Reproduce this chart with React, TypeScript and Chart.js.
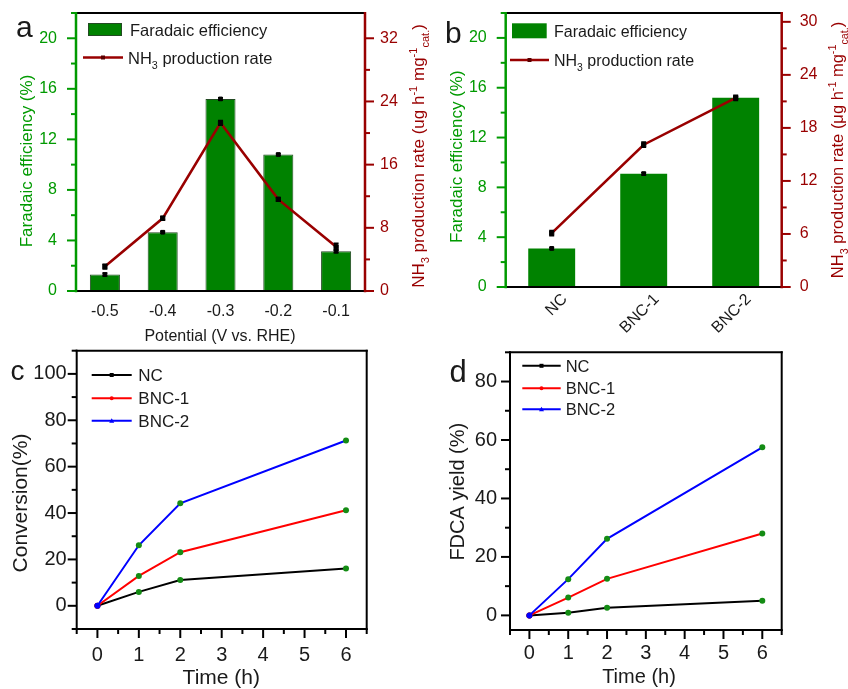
import React, { useEffect, useRef } from 'react';
import { Chart, registerables } from 'chart.js';

Chart.register(...registerables);

const W = 848;
const H = 689;
const FONT = "'Liberation Sans', Arial, Helvetica, sans-serif";

// ---------------- data ----------------
const potentialLabels = ['-0.5', '-0.4', '-0.3', '-0.2', '-0.1'];
const feByPotential = [1.3, 4.65, 15.2, 10.8, 3.15];
const feErrByPotential = [0.12, 0.08, 0.1, 0.08, 0.12];
const rateByPotential = [3.1, 9.2, 21.3, 11.6, 5.6];
const rateErrByPotential = [0.3, 0.25, 0.3, 0.25, 0.45];
const feTicksA = [0, 4, 8, 12, 16, 20];
const rateTicksA = [0, 8, 16, 24, 32];

const catalystLabels = ['NC', 'BNC-1', 'BNC-2'];
const feByCatalyst = [3.1, 9.1, 15.2];
const feErrByCatalyst = [0.08, 0.1, 0.1];
const rateByCatalyst = [6.1, 16.1, 21.4];
const rateErrByCatalyst = [0.3, 0.3, 0.3];
const feTicksB = [0, 4, 8, 12, 16, 20];
const rateTicksB = [0, 6, 12, 18, 24, 30];

const timeHours = [0, 1, 2, 6];
const conversionNC = [0, 6.0, 11.1, 16.1];
const conversionBNC1 = [0, 12.9, 23.1, 41.2];
const conversionBNC2 = [0, 26.1, 44.2, 71.3];
const fdcaNC = [0, 0.9, 2.6, 5.0];
const fdcaBNC1 = [0, 6.1, 12.5, 28.0];
const fdcaBNC2 = [0, 12.4, 26.2, 57.5];
const conversionTicks = [0, 20, 40, 60, 80, 100];
const fdcaTicks = [0, 20, 40, 60, 80];
const timeTicks = [0, 1, 2, 3, 4, 5, 6];

// ---------------- styles ----------------
const GREEN_TXT = '#009a00';
const GREEN_BAR = '#008200';
const WINE = '#990000';
const INK = '#1a1a1a';
const DOT_GREEN = '#148c14';

type Seg = { t: string; s?: 'sub' | 'sup' };

const rateTitleA: Seg[] = [
  { t: 'NH' }, { t: '3', s: 'sub' }, { t: ' production rate (ug h' }, { t: '-1', s: 'sup' },
  { t: ' mg' }, { t: '-1', s: 'sup' }, { t: 'cat.', s: 'sub' }, { t: ')' },
];
const rateTitleB: Seg[] = [
  { t: 'NH' }, { t: '3', s: 'sub' }, { t: ' production rate (\u03bcg h' }, { t: '-1', s: 'sup' },
  { t: ' mg' }, { t: '-1', s: 'sup' }, { t: 'cat.', s: 'sub' }, { t: ')' },
];
const rateLegend: Seg[] = [{ t: 'NH' }, { t: '3', s: 'sub' }, { t: ' production rate' }];

function fontStr(size: number) {
  return `${size}px ${FONT}`;
}

function drawRich(ctx: CanvasRenderingContext2D, segs: Seg[], x: number, y: number, size: number,
  color: string, rot = 0, align: 'left' | 'center' = 'left') {
  ctx.save();
  ctx.translate(x, y);
  ctx.rotate(rot);
  ctx.fillStyle = color;
  ctx.textAlign = 'left';
  ctx.textBaseline = 'alphabetic';
  let total = 0;
  for (const g of segs) {
    ctx.font = fontStr(g.s ? size * 0.65 : size);
    total += ctx.measureText(g.t).width;
  }
  let cx = align === 'center' ? -total / 2 : 0;
  const base = size * 0.358;
  for (const g of segs) {
    const fs = g.s ? size * 0.65 : size;
    ctx.font = fontStr(fs);
    const dy = g.s === 'sub' ? size * 0.3 : g.s === 'sup' ? -size * 0.4 : 0;
    ctx.fillText(g.t, cx, base + dy);
    cx += ctx.measureText(g.t).width;
  }
  ctx.restore();
}

function drawMarker(ctx: CanvasRenderingContext2D, kind: string, x: number, y: number, s: number, color: string) {
  ctx.save();
  ctx.fillStyle = color;
  ctx.beginPath();
  if (kind === 'rect') ctx.rect(x - s / 2, y - s / 2, s, s);
  else if (kind === 'circle') ctx.arc(x, y, s / 2, 0, Math.PI * 2);
  else if (kind === 'triangle') {
    ctx.moveTo(x, y - s / 2 - 0.5);
    ctx.lineTo(x + s / 2 + 0.5, y + s / 2);
    ctx.lineTo(x - s / 2 - 0.5, y + s / 2);
    ctx.closePath();
  }
  ctx.fill();
  ctx.restore();
}

interface AxisDeco { id: string; side: 'left' | 'right' | 'bottom'; color: string; w: number; major?: number[]; minorStep?: number }
interface LegendItem {
  kind: 'box' | 'line'; x1: number; x2: number; y1?: number; y2?: number; y?: number;
  fill?: string; stroke?: string; color?: string; w?: number; marker?: string; markerColor?: string; markerSize?: number;
  tx: number; ty: number; segs: Seg[]; size: number; textColor: string;
}
interface TitleSpec { segs: Seg[]; x: number; y: number; size: number; color: string; rot: number }
interface DecoCfg {
  axes: AxisDeco[];
  top: { color: string; w: number };
  right?: { color: string; w: number };
  errors?: { ds: number; scale: string; err: number[] }[];
  legend: LegendItem[];
  titles: TitleSpec[];
  letter: { t: string; x: number; y: number; size: number };
}

const MAJOR_LEN = 9;
const MINOR_LEN = 5;

function makeDeco(cfg: DecoCfg) {
  return {
    id: 'deco',
    afterDatasetsDraw(chart: any) {
      const ctx: CanvasRenderingContext2D = chart.ctx;
      for (const e of cfg.errors || []) {
        const meta = chart.getDatasetMeta(e.ds);
        const sc = chart.scales[e.scale];
        const vals = chart.data.datasets[e.ds].data as number[];
        meta.data.forEach((el: any, i: number) => {
          const v = vals[i];
          const er = e.err[i];
          const ya = sc.getPixelForValue(v - er);
          const yb = sc.getPixelForValue(v + er);
          ctx.save();
          ctx.strokeStyle = '#000';
          ctx.lineWidth = 1.5;
          ctx.beginPath();
          ctx.moveTo(el.x, ya); ctx.lineTo(el.x, yb);
          ctx.moveTo(el.x - 2.5, ya); ctx.lineTo(el.x + 2.5, ya);
          ctx.moveTo(el.x - 2.5, yb); ctx.lineTo(el.x + 2.5, yb);
          ctx.stroke();
          ctx.restore();
        });
      }
    },
    afterDraw(chart: any) {
      const ctx: CanvasRenderingContext2D = chart.ctx;
      const { left: L, right: R, top: T, bottom: B } = chart.chartArea;
      const seg = (x1: number, y1: number, x2: number, y2: number, color: string, w: number) => {
        ctx.save();
        ctx.strokeStyle = color;
        ctx.lineWidth = w;
        ctx.lineCap = 'butt';
        ctx.beginPath();
        ctx.moveTo(x1, y1);
        ctx.lineTo(x2, y2);
        ctx.stroke();
        ctx.restore();
      };
      // frame
      seg(L - 1, T, R + 1, T, cfg.top.color, cfg.top.w);
      if (cfg.right) seg(R, T - 1, R, B + 1, cfg.right.color, cfg.right.w);
      // axes
      const order = [...cfg.axes].sort((a, b) => (a.side === 'bottom' ? -1 : 0) - (b.side === 'bottom' ? -1 : 0));
      for (const ax of order) {
        const sc = chart.scales[ax.id];
        if (ax.side === 'bottom') seg(L - ax.w / 2, B, R + ax.w / 2, B, ax.color, ax.w);
        else if (ax.side === 'left') seg(L, T - 1, L, B + ax.w / 2, ax.color, ax.w);
        else seg(R, T - 1, R, B + ax.w / 2, ax.color, ax.w);
        const majors = ax.major || [];
        const minors: number[] = [];
        if (ax.minorStep) {
          const st = ax.minorStep;
          for (let k = Math.ceil(sc.min / st - 1e-9); k * st <= sc.max + 1e-9; k++) {
            const v = +(k * st).toFixed(6);
            if (!majors.some((m) => Math.abs(m - v) < 1e-9)) minors.push(v);
          }
        }
        const tick = (v: number, len: number) => {
          const p = sc.getPixelForValue(v);
          if (ax.side === 'left') seg(L, p, L - len, p, ax.color, 2);
          else if (ax.side === 'right') seg(R, p, R + len, p, ax.color, 2);
          else seg(p, B, p, B + len, ax.color, 2);
        };
        majors.forEach((v) => tick(v, MAJOR_LEN));
        minors.forEach((v) => tick(v, MINOR_LEN));
      }
      // legend
      for (const it of cfg.legend) {
        if (it.kind === 'box') {
          ctx.save();
          ctx.fillStyle = it.fill!;
          ctx.fillRect(it.x1, it.y1!, it.x2 - it.x1, it.y2! - it.y1!);
          if (it.stroke) {
            ctx.strokeStyle = it.stroke;
            ctx.lineWidth = 1;
            ctx.strokeRect(it.x1 + 0.5, it.y1! + 0.5, it.x2 - it.x1 - 1, it.y2! - it.y1! - 1);
          }
          ctx.restore();
        } else {
          seg(it.x1, it.y!, it.x2, it.y!, it.color!, it.w!);
          if (it.marker) drawMarker(ctx, it.marker, (it.x1 + it.x2) / 2, it.y!, it.markerSize!, it.markerColor!);
        }
        drawRich(ctx, it.segs, it.tx, it.ty, it.size, it.textColor, 0, 'left');
      }
      // titles
      for (const t of cfg.titles) drawRich(ctx, t.segs, t.x, t.y, t.size, t.color, t.rot, 'center');
      // letter
      ctx.save();
      ctx.fillStyle = INK;
      ctx.font = fontStr(cfg.letter.size);
      ctx.textAlign = 'left';
      ctx.textBaseline = 'alphabetic';
      ctx.fillText(cfg.letter.t, cfg.letter.x, cfg.letter.y);
      ctx.restore();
    },
  };
}

const Y_W = 50;
const R_W = 45;
const X_H = 58;

function yScale(o: { pos: 'left' | 'right'; min: number; max: number; ticks: number[]; color: string; size: number; padding: number }) {
  return {
    type: 'linear',
    position: o.pos,
    min: o.min,
    max: o.max,
    grid: { display: false, drawTicks: false },
    border: { display: false },
    ticks: { color: o.color, font: { family: FONT, size: o.size }, padding: o.padding },
    afterBuildTicks: (s: any) => { s.ticks = o.ticks.map((v) => ({ value: v })); },
    afterFit: (s: any) => { s.width = o.pos === 'left' ? Y_W : R_W; s.paddingTop = 0; s.paddingBottom = 0; },
  };
}

function catX(size: number, padding: number, rot: number, labelOffset: number) {
  return {
    type: 'category',
    position: 'bottom',
    offset: true,
    grid: { display: false, drawTicks: false },
    border: { display: false },
    ticks: { color: INK, font: { family: FONT, size }, padding, maxRotation: rot, minRotation: rot, autoSkip: false, labelOffset },
    afterFit: (s: any) => { s.height = X_H; s.paddingLeft = 0; s.paddingRight = 0; },
  };
}

function linX(size: number, padding: number) {
  return {
    type: 'linear',
    position: 'bottom',
    min: -0.5,
    max: 6.5,
    grid: { display: false, drawTicks: false },
    border: { display: false },
    ticks: { color: INK, font: { family: FONT, size }, padding },
    afterBuildTicks: (s: any) => { s.ticks = timeTicks.map((v) => ({ value: v })); },
    afterFit: (s: any) => { s.height = X_H; s.paddingLeft = 0; s.paddingRight = 0; },
  };
}

function baseOptions(area: { l: number; r: number; t: number; b: number }, hasRight: boolean) {
  return {
    responsive: false,
    maintainAspectRatio: false,
    animation: false,
    events: [],
    layout: {
      padding: {
        left: area.l - Y_W,
        right: W - area.r - (hasRight ? R_W : 0),
        top: area.t,
        bottom: Math.max(H - area.b - X_H, 0),
      },
    },
    plugins: { legend: { display: false }, tooltip: { enabled: false } },
  };
}

function barPanel(p: {
  area: { l: number; r: number; t: number; b: number };
  labels: string[]; fe: number[]; feErr: number[]; rate: number[]; rateErr: number[];
  feTicks: number[]; rateTicks: number[]; rateMax: number; rateMinor: number;
  barPct: number; barBorder: number; xRot: number; xPad: number; xOffset: number;
  leftPad: number; rightPad: number; deco: Omit<DecoCfg, 'axes' | 'top' | 'errors'>;
}) {
  const cfg: DecoCfg = {
    ...p.deco,
    axes: [
      { id: 'x', side: 'bottom', color: '#000', w: 2.2 },
      { id: 'y', side: 'left', color: GREEN_TXT, w: 2.5, major: p.feTicks, minorStep: 2 },
      { id: 'y1', side: 'right', color: WINE, w: 2.5, major: p.rateTicks, minorStep: p.rateMinor },
    ],
    top: { color: '#000', w: 2.2 },
    errors: [
      { ds: 1, scale: 'y', err: p.feErr },
      { ds: 2, scale: 'y1', err: p.rateErr },
    ],
  };
  return {
    type: 'bar',
    data: {
      labels: p.labels,
      datasets: [
        {
          type: 'bar', label: 'Faradaic efficiency', data: p.fe, yAxisID: 'y', xAxisID: 'x',
          backgroundColor: GREEN_BAR, borderColor: '#234a23', borderWidth: p.barBorder,
          barPercentage: p.barPct, categoryPercentage: 1, order: 3,
        },
        {
          type: 'line', label: 'Faradaic efficiency error', data: p.fe, yAxisID: 'y', xAxisID: 'x',
          showLine: false, pointStyle: 'rect', pointRadius: 2.6, pointBackgroundColor: '#000',
          pointBorderColor: '#000', pointBorderWidth: 1, order: 2,
        },
        {
          type: 'line', label: 'NH3 production rate', data: p.rate, yAxisID: 'y1', xAxisID: 'x',
          borderColor: WINE, borderWidth: 2.6, tension: 0, pointStyle: 'rect', pointRadius: 3,
          pointBackgroundColor: '#000', pointBorderColor: '#000', pointBorderWidth: 1, order: 1,
        },
      ],
    },
    options: {
      ...baseOptions(p.area, true),
      scales: {
        x: catX(16, p.xPad, p.xRot, p.xOffset),
        y: yScale({ pos: 'left', min: 0, max: 22, ticks: p.feTicks, color: GREEN_TXT, size: 16, padding: p.leftPad }),
        y1: yScale({ pos: 'right', min: 0, max: p.rateMax, ticks: p.rateTicks, color: WINE, size: 16, padding: p.rightPad }),
      },
    },
    plugins: [makeDeco(cfg)],
  };
}

function makeA() {
  return barPanel({
    area: { l: 76, r: 365, t: 13, b: 291 },
    labels: potentialLabels, fe: feByPotential, feErr: feErrByPotential,
    rate: rateByPotential, rateErr: rateErrByPotential,
    feTicks: feTicksA, rateTicks: rateTicksA, rateMax: 35.2, rateMinor: 4,
    barPct: 0.52, barBorder: 1, xRot: 0, xPad: 11, xOffset: 0, leftPad: 19, rightPad: 15,
    deco: {
      legend: [
        { kind: 'box', x1: 88, x2: 122, y1: 23, y2: 36, fill: GREEN_BAR, stroke: '#234a23', tx: 130, ty: 30.5,
          segs: [{ t: 'Faradaic efficiency' }], size: 16.5, textColor: INK },
        { kind: 'line', x1: 83, x2: 123, y: 57.5, color: WINE, w: 2.6, marker: 'rect', markerColor: '#5a0000', markerSize: 4,
          tx: 128, ty: 58.3, segs: rateLegend, size: 16.5, textColor: INK },
      ],
      titles: [
        { segs: [{ t: 'Faradaic efficiency (%)' }], x: 26, y: 161, size: 17, color: GREEN_TXT, rot: -Math.PI / 2 },
        { segs: rateTitleA, x: 418, y: 156, size: 17, color: WINE, rot: -Math.PI / 2 },
        { segs: [{ t: 'Potential (V vs. RHE)' }], x: 220, y: 335, size: 16, color: INK, rot: 0 },
      ],
      letter: { t: 'a', x: 16, y: 37, size: 30 },
    },
  });
}

function makeB() {
  return barPanel({
    area: { l: 505.7, r: 781.7, t: 13, b: 287 },
    labels: catalystLabels, fe: feByCatalyst, feErr: feErrByCatalyst,
    rate: rateByCatalyst, rateErr: rateErrByCatalyst,
    feTicks: feTicksB, rateTicks: rateTicksB, rateMax: 31, rateMinor: 3,
    barPct: 0.51, barBorder: 0, xRot: 45, xPad: 3, xOffset: 13, leftPad: 19, rightPad: 18,
    deco: {
      legend: [
        { kind: 'box', x1: 512, x2: 546.7, y1: 23.3, y2: 38.3, fill: GREEN_BAR, tx: 554, ty: 31.7,
          segs: [{ t: 'Faradaic efficiency' }], size: 16, textColor: INK },
        { kind: 'line', x1: 510, x2: 549, y: 60, color: WINE, w: 2.6, marker: 'rect', markerColor: '#5a0000', markerSize: 4,
          tx: 554, ty: 60.5, segs: rateLegend, size: 16, textColor: INK },
      ],
      titles: [
        { segs: [{ t: 'Faradaic efficiency (%)' }], x: 455.7, y: 156.7, size: 17, color: GREEN_TXT, rot: -Math.PI / 2 },
        { segs: rateTitleB, x: 837, y: 150, size: 16.5, color: WINE, rot: -Math.PI / 2 },
      ],
      letter: { t: 'b', x: 445, y: 43.3, size: 30 },
    },
  });
}

function lineDataset(label: string, values: number[], color: string, order: number) {
  return {
    label,
    data: timeHours.map((t, i) => ({ x: t, y: values[i] })),
    borderColor: color,
    backgroundColor: color,
    borderWidth: 2,
    tension: 0,
    pointStyle: 'circle',
    pointRadius: 3,
    pointBorderWidth: 0,
    pointBackgroundColor: (c: any) => (c.dataIndex === 0 ? color : DOT_GREEN),
    pointBorderColor: (c: any) => (c.dataIndex === 0 ? color : DOT_GREEN),
    order,
  };
}

function linePanel(p: {
  area: { l: number; r: number; t: number; b: number };
  nc: number[]; b1: number[]; b2: number[]; yMin: number; yMax: number; yTicks: number[];
  tickSize: number; yPad: number; xPad: number; deco: Omit<DecoCfg, 'axes' | 'top' | 'right'>;
}) {
  const cfg: DecoCfg = {
    ...p.deco,
    axes: [
      { id: 'x', side: 'bottom', color: '#000', w: 2, major: timeTicks, minorStep: 0.5 },
      { id: 'y', side: 'left', color: '#000', w: 2, major: p.yTicks, minorStep: 10 },
    ],
    top: { color: '#000', w: 2 },
    right: { color: '#000', w: 2 },
  };
  return {
    type: 'line',
    data: {
      datasets: [
        lineDataset('NC', p.nc, '#000000', 3),
        lineDataset('BNC-1', p.b1, '#ff0000', 2),
        lineDataset('BNC-2', p.b2, '#0000ff', 1),
      ],
    },
    options: {
      ...baseOptions(p.area, false),
      scales: {
        x: linX(p.tickSize, p.xPad),
        y: yScale({ pos: 'left', min: p.yMin, max: p.yMax, ticks: p.yTicks, color: INK, size: p.tickSize, padding: p.yPad }),
      },
    },
    plugins: [makeDeco(cfg)],
  };
}

function lineLegend(x1: number, x2: number, tx: number, ys: number[], size: number): LegendItem[] {
  const items = [
    { label: 'NC', color: '#000000', marker: 'rect', ms: 4 },
    { label: 'BNC-1', color: '#ff0000', marker: 'circle', ms: 4 },
    { label: 'BNC-2', color: '#0000ff', marker: 'triangle', ms: 4 },
  ];
  return items.map((it, i) => ({
    kind: 'line' as const, x1, x2, y: ys[i], color: it.color, w: 2, marker: it.marker, markerColor: it.color,
    markerSize: it.ms, tx, ty: ys[i], segs: [{ t: it.label }], size, textColor: INK,
  }));
}

function makeC() {
  return linePanel({
    area: { l: 76.7, r: 366.7, t: 350.7, b: 629 },
    nc: conversionNC, b1: conversionBNC1, b2: conversionBNC2,
    yMin: -10, yMax: 110, yTicks: conversionTicks, tickSize: 20, yPad: 10, xPad: 14,
    deco: {
      legend: lineLegend(91.7, 131.7, 138.3, [375, 398.3, 420.8], 17),
      titles: [
        { segs: [{ t: 'Conversion(%)' }], x: 19.3, y: 503, size: 21, color: INK, rot: -Math.PI / 2 },
        { segs: [{ t: 'Time (h)' }], x: 221.3, y: 676, size: 21, color: INK, rot: 0 },
      ],
      letter: { t: 'c', x: 10.5, y: 380, size: 28 },
    },
  });
}

function makeD() {
  return linePanel({
    area: { l: 510, r: 781.7, t: 352.3, b: 630 },
    nc: fdcaNC, b1: fdcaBNC1, b2: fdcaBNC2,
    yMin: -5, yMax: 90, yTicks: fdcaTicks, tickSize: 20, yPad: 13, xPad: 11,
    deco: {
      legend: lineLegend(522.3, 560.7, 565.7, [365.8, 388.2, 409.2], 16.5),
      titles: [
        { segs: [{ t: 'FDCA yield (%)' }], x: 457.3, y: 491.7, size: 20, color: INK, rot: -Math.PI / 2 },
        { segs: [{ t: 'Time (h)' }], x: 639, y: 675.5, size: 20, color: INK, rot: 0 },
      ],
      letter: { t: 'd', x: 449.5, y: 382.3, size: 31 },
    },
  });
}

function ChartCanvas({ make }: { make: () => any }) {
  const ref = useRef<HTMLCanvasElement>(null);
  useEffect(() => {
    const chart = new Chart(ref.current as HTMLCanvasElement, make());
    return () => chart.destroy();
  }, []);
  return (
    <canvas
      ref={ref}
      width={W}
      height={H}
      style={{ position: 'absolute', left: 0, top: 0, width: W, height: H }}
    />
  );
}

export default function App() {
  return (
    <div style={{ position: 'absolute', left: 0, top: 0, width: W, height: H, background: '#ffffff', overflow: 'hidden' }}>
      <ChartCanvas make={makeA} />
      <ChartCanvas make={makeB} />
      <ChartCanvas make={makeC} />
      <ChartCanvas make={makeD} />
    </div>
  );
}
